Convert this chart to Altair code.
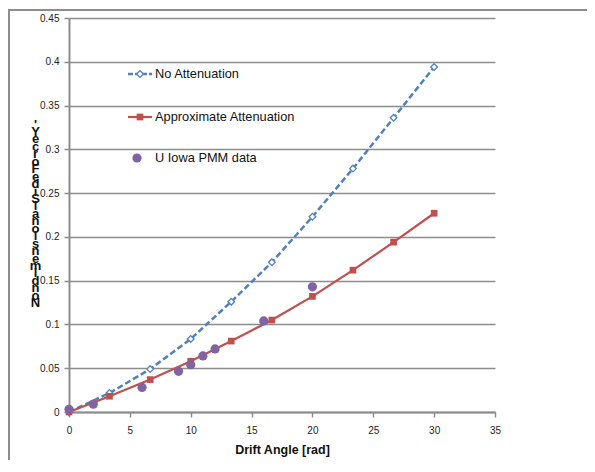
import altair as alt
import pandas as pd

# ---- data ----
model_angles = [0, 3.33, 6.67, 10, 13.33, 16.67, 20, 23.33, 26.67, 30]
no_attenuation = [0, 0.0217, 0.049, 0.0834, 0.126, 0.171, 0.223, 0.278, 0.336, 0.394]
approx_attenuation = [0, 0.018, 0.037, 0.058, 0.081, 0.105, 0.132, 0.162, 0.194, 0.227]
pmm_angles = [0, 2, 6, 9, 10, 11, 12, 16, 20]
pmm_values = [0.003, 0.009, 0.028, 0.0465, 0.054, 0.064, 0.072, 0.104, 0.143]
series_names = ["No Attenuation", "Approximate Attenuation", "U Iowa PMM data"]
x_ticks = [0, 5, 10, 15, 20, 25, 30, 35]
y_ticks = [0, 0.05, 0.1, 0.15, 0.2, 0.25, 0.3, 0.35, 0.4, 0.45]
y_title = "Nondimensional Side Force Y'"
x_title = "Drift Angle [rad]"

BLUE = "#4F81BD"
RED = "#C0504D"
PURPLE = "#8064A2"
GRID = "#8c8c8c"
FONT = "Liberation Sans"

df_no = pd.DataFrame({"x": model_angles, "y": no_attenuation})
df_ap = pd.DataFrame({"x": model_angles, "y": approx_attenuation})
df_pmm = pd.DataFrame({"x": pmm_angles, "y": pmm_values})

xs = alt.X("x:Q", scale=alt.Scale(domain=[0, 35], nice=False),
           axis=alt.Axis(values=x_ticks, title=x_title, grid=False, format="d", labelFlush=False))
ys = alt.Y("y:Q", scale=alt.Scale(domain=[0, 0.45], nice=False),
           axis=alt.Axis(values=y_ticks, title=list(reversed(y_title)), grid=True,
                         format=".2~f", titleAngle=0, titleAlign="center",
                         titleBaseline="top", titleX=-34, titleY=100,
                         titleLineHeight=7.45, labelFlush=False))

one = pd.DataFrame({"a": [0]})

# outer frame: top and left edges only (right/bottom fall outside the picture)
frame_top = alt.Chart(one).mark_rule(color=GRID, strokeWidth=2).encode(
    x=alt.value(-61), x2=alt.value(518), y=alt.value(-8))
frame_left = alt.Chart(one).mark_rule(color=GRID, strokeWidth=2).encode(
    x=alt.value(-60), y=alt.value(-9), y2=alt.value(442))

blue_line = alt.Chart(df_no).mark_line(color=BLUE, strokeWidth=2.5, strokeDash=[6, 3]).encode(x=xs, y=ys)
blue_pts = alt.Chart(df_no).mark_point(shape="diamond", filled=True, fill="white", stroke=BLUE,
                                       strokeWidth=1.3, size=45, opacity=1).encode(x="x:Q", y="y:Q")
red_line = alt.Chart(df_ap).mark_line(color=RED, strokeWidth=2.2).encode(x="x:Q", y="y:Q")
red_pts = alt.Chart(df_ap).mark_point(shape="square", filled=True, color=RED, size=45, opacity=1).encode(x="x:Q", y="y:Q")
pmm_pts = alt.Chart(df_pmm).mark_circle(color=PURPLE, size=85, opacity=1).encode(x="x:Q", y="y:Q")

# manual legend (pixel positions inside plot area)
leg_y = [56, 99, 140]
leg = []
leg.append(alt.Chart(one).mark_rule(color=BLUE, strokeWidth=2.5, strokeDash=[5, 2]).encode(
    x=alt.value(59), x2=alt.value(83), y=alt.value(leg_y[0])))
leg.append(alt.Chart(one).mark_point(shape="diamond", filled=True, fill="white", stroke=BLUE,
                                     strokeWidth=1.3, size=45, opacity=1).encode(
    x=alt.value(71), y=alt.value(leg_y[0])))
leg.append(alt.Chart(one).mark_rule(color=RED, strokeWidth=2.2).encode(
    x=alt.value(59), x2=alt.value(83), y=alt.value(leg_y[1])))
leg.append(alt.Chart(one).mark_point(shape="square", filled=True, color=RED, size=45, opacity=1).encode(
    x=alt.value(71), y=alt.value(leg_y[1])))
leg.append(alt.Chart(one).mark_circle(color=PURPLE, size=85, opacity=1).encode(
    x=alt.value(68), y=alt.value(leg_y[2])))
for name, yy in zip(series_names, leg_y):
    leg.append(alt.Chart(one).mark_text(align="left", baseline="middle", font=FONT, fontSize=12.8,
                                        color="#111").encode(
        x=alt.value(86), y=alt.value(yy), text=alt.value(name)))

chart = alt.layer(frame_top, frame_left, blue_line, blue_pts, red_line, red_pts, pmm_pts, *leg).properties(
    width=426, height=394,
    autosize=alt.AutoSizeParams(type="none"),
    padding={"left": 61, "top": 10, "right": 92, "bottom": 48},
    background="white",
).configure_view(stroke=None).configure_axis(
    domainColor=GRID, domainWidth=2, tickColor=GRID, tickWidth=1.5, tickSize=5,
    gridColor=GRID, gridWidth=1.5, labelFont=FONT, labelFontSize=10, labelColor="#222",
    titleFont=FONT, titleFontSize=12, titleFontWeight="bold", titleColor="#111",
).configure_axisX(labelPadding=8, titlePadding=8, titleFontSize=12.5).configure_axisY(
    labelPadding=5, titleFontSize=13)

chart.save("out.html", embed_options={"renderer": "svg", "actions": False})
